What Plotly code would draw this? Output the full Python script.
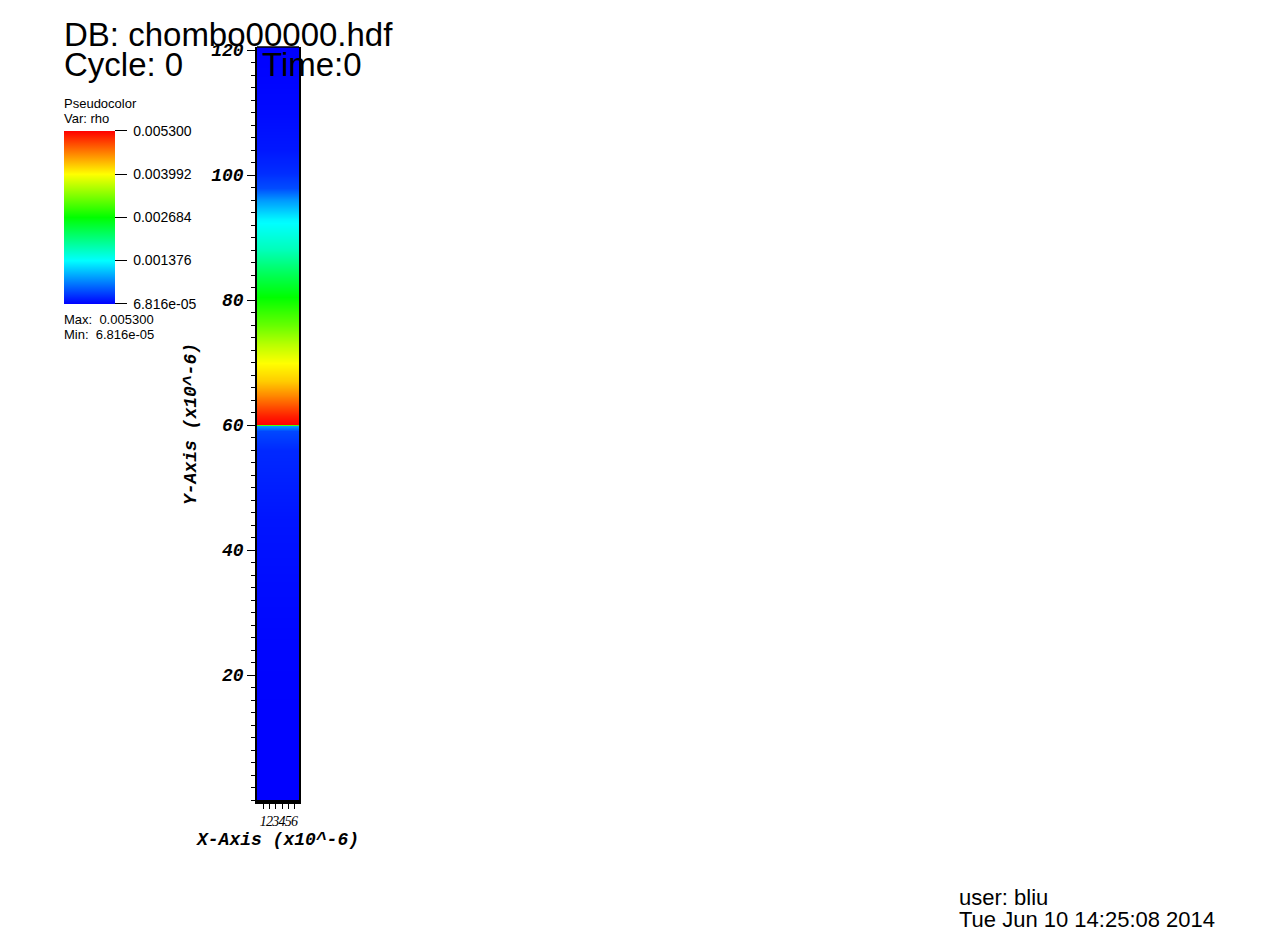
import plotly.graph_objects as go

# ---- data ----
y_levels = [0.0, 20.0, 32.0, 45.0, 56.0, 59.0, 59.9, 60.1, 61.5, 63.0, 65.0, 67.0, 70.0,
            73.0, 76.0, 80.5, 84.0, 88.0, 91.0, 93.0, 96.0, 98.0, 100.3, 104.0, 110.0,
            115.0, 120.5]
rho_values = [0.0000682, 0.0000839, 0.000120, 0.000173, 0.000277, 0.000434, 0.000853,
              0.005300, 0.005143, 0.004882, 0.004568, 0.004254, 0.003992, 0.003626,
              0.003207, 0.002684, 0.002266, 0.001742, 0.001481, 0.001324, 0.000853,
              0.000460, 0.000300, 0.000185, 0.000120, 0.0000890, 0.0000682]
x_columns = [0.0, 6.72]
rho_min = 6.816e-05
rho_max = 0.005300
cbar_vals = [6.816e-05, 0.001376, 0.002684, 0.003992, 0.005300]
cbar_text = ["6.816e-05", "0.001376", "0.002684", "0.003992", "0.005300"]
x_ticks = [1, 2, 3, 4, 5, 6]
x_ticktext = ["1", "2", "3", "4", "5", "6"]
y_ticks = [20, 40, 60, 80, 100, 120]

OFF = 8                      # page body margin
W, H = 1280 - 2 * OFF, 942 - 2 * OFF
L, R, T, B = 257 - OFF, 299 - OFF, 47 - OFF, 800 - OFF


def pxx(x):
    return (x - OFF - L) / (R - L)


def pxy(y):
    return (B - (y - OFF)) / (B - T)


z = [[v, v] for v in rho_values]

hot = [[0.0, "#0000ff"], [0.25, "#00ffff"], [0.5, "#00ff00"],
       [0.75, "#ffff00"], [1.0, "#ff0000"]]

fig = go.Figure()
fig.add_trace(go.Heatmap(
    x=x_columns, y=y_levels, z=z, zmin=rho_min, zmax=rho_max,
    colorscale=hot, zsmooth="best", hoverinfo="skip",
    colorbar=dict(
        xref="container", yref="container",
        x=(64 - OFF) / W, xanchor="left", y=1 - (131 - OFF + 28) / H, yanchor="top",
        lenmode="pixels", len=173, thickness=51, thicknessmode="pixels",
        outlinewidth=0, ticks="outside", ticklen=12, tickcolor="black",
        tickwidth=1, tickvals=cbar_vals, ticktext=[" " + t for t in cbar_text],
        tickfont=dict(family="Liberation Sans", size=14, color="black"),
        xpad=0, ypad=0,
    ),
))

mono = dict(family="Liberation Mono", size=18, color="black", weight="bold", style="italic")

fig.update_xaxes(
    range=[0, 6.72], showgrid=False, zeroline=False,
    showline=True, linecolor="black", linewidth=4,
    ticks="outside", ticklen=5, tickcolor="black", tickwidth=1,
    tickvals=x_ticks, ticktext=x_ticktext, tickangle=0,
    tickfont=dict(family="Liberation Serif", size=14, color="black", style="italic"),
    title=dict(text="X-Axis (x10^-6)", font=mono, standoff=6),
)
fig.update_yaxes(
    range=[0, 120.5], showgrid=False, zeroline=False,
    showline=True, mirror=True, linecolor="black", linewidth=1.5,
    ticks="outside", ticklen=8, tickcolor="black", tickwidth=1,
    tickvals=y_ticks, tickfont=mono,
    minor=dict(dtick=2, ticks="outside", ticklen=4, tickcolor="black", tickwidth=1),
)

fig.add_shape(type="line", xref="paper", yref="paper", x0=0, x1=1, y0=1, y1=1,
              line=dict(color="black", width=1.5))

# rotated y-axis title
fig.add_annotation(text="Y-Axis (x10^-6)", xref="paper", yref="paper",
                   x=pxx(191), y=pxy(424), xanchor="center", yanchor="middle",
                   textangle=-90, showarrow=False, font=mono)


def ann(text, x, y, size, family="Liberation Sans"):
    fig.add_annotation(text=text, xref="paper", yref="paper", x=pxx(x), y=pxy(y),
                       xanchor="left", yanchor="top", showarrow=False, align="left",
                       font=dict(family=family, size=size, color="black"))


ann("DB: chombo00000.hdf", 62, 14, 33)
ann("Cycle: 0", 62, 44, 33)
ann("Time:0", 260, 44, 33)
ann("Pseudocolor", 62, 94, 13)
ann("Var: rho", 62, 109, 13)
ann("Max:  0.005300", 62, 310, 13)
ann("Min:  6.816e-05", 62, 325, 13)
ann("user: bliu", 957, 883, 22)
ann("Tue Jun 10 14:25:08 2014", 957, 905, 22)

fig.update_layout(
    width=W, height=H, autosize=False,
    margin=dict(l=L, r=W - R, t=T, b=H - B, pad=0, autoexpand=False),
    plot_bgcolor="white", paper_bgcolor="white",
    showlegend=False,
)

fig.write_html("out.html")
